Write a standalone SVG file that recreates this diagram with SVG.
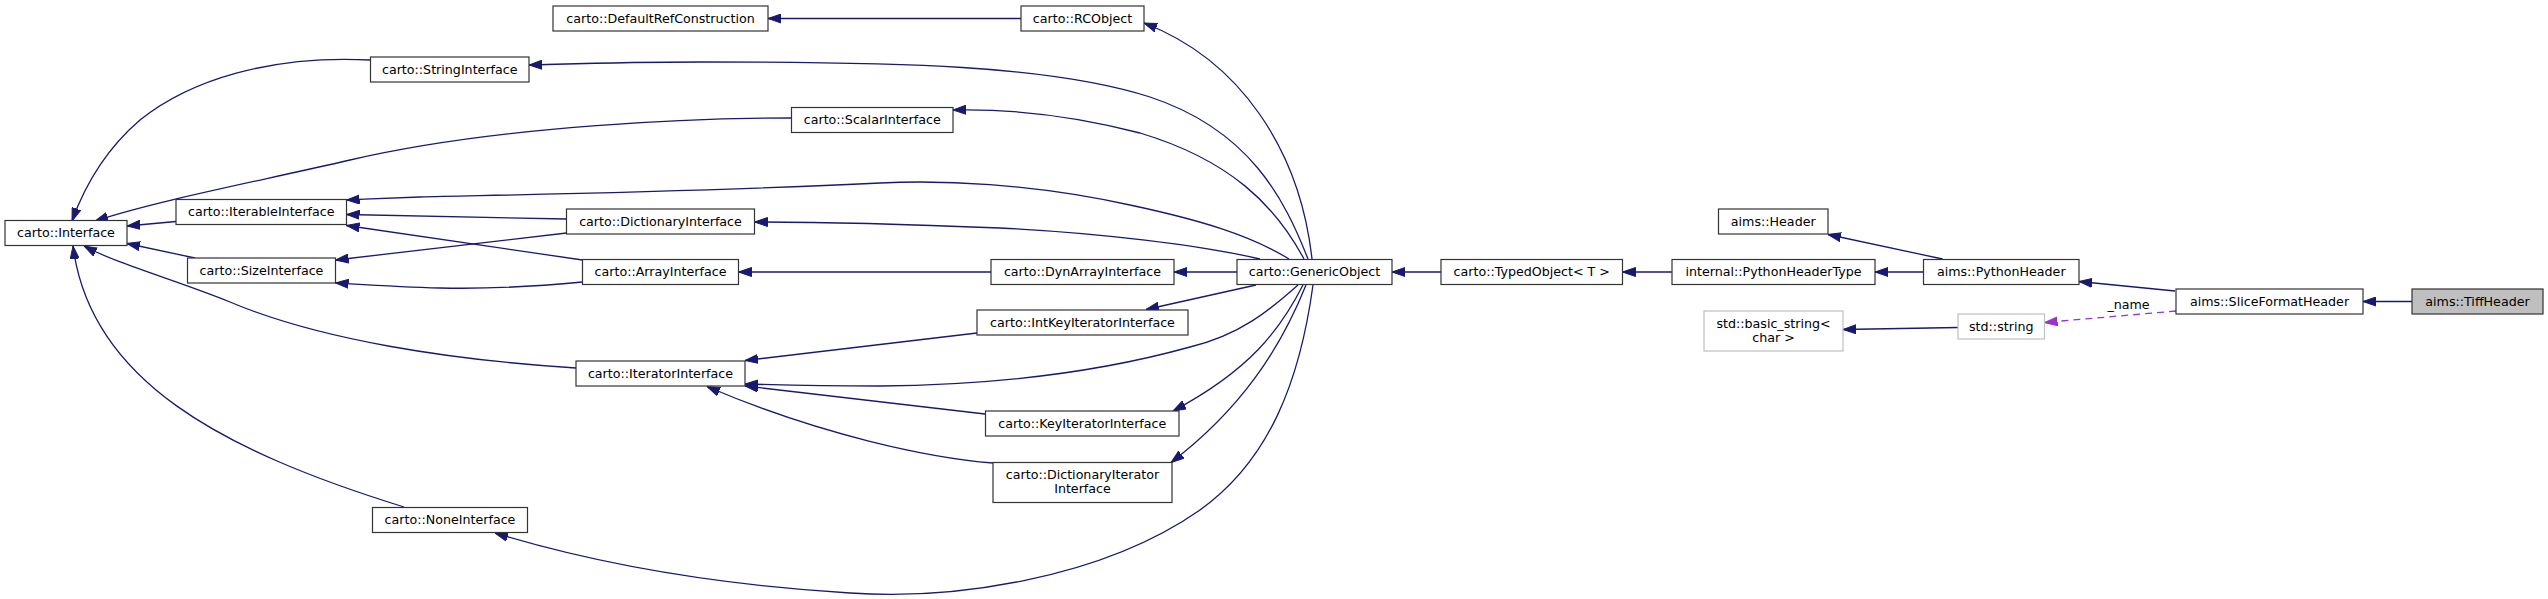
<svg xmlns="http://www.w3.org/2000/svg" width="2548" height="599" viewBox="0 0 2548 599">
<style>
.n rect{fill:#fff;stroke:#333;stroke-width:1.2}
.n.g rect{stroke:#bfbfbf}
.n.cur rect{fill:#bfbfbf}
.n text{font-family:"DejaVu Sans",sans-serif;font-size:12.67px;fill:#000;text-anchor:middle}
.e{fill:none;stroke:#191970;stroke-width:1.3;marker-end:url(#a)}
.u{fill:none;stroke:#9a32cd;stroke-width:1.3;stroke-dasharray:7,5;marker-end:url(#p)}
.lbl{font-family:"DejaVu Sans",sans-serif;font-size:12.67px;text-anchor:middle}
</style>
<defs>
<marker id="a" markerUnits="userSpaceOnUse" viewBox="0 0 13 10" refX="13" refY="5" markerWidth="13" markerHeight="10" orient="auto"><path d="M0,0.5 L13,5 L0,9.5 z" fill="#191970" stroke="#191970"/></marker>
<marker id="p" markerUnits="userSpaceOnUse" viewBox="0 0 13 10" refX="13" refY="5" markerWidth="13" markerHeight="10" orient="auto"><path d="M0,0.5 L13,5 L0,9.5 z" fill="#9a32cd" stroke="#9a32cd"/></marker>
</defs>
<rect width="2548" height="599" fill="#fff"/>
<g id="edges">
<path class="e" d="M1021,18.5 L768,18.5"/>
<path class="e" d="M1312,259 C1300,150 1240,60 1144,23"/>
<path class="e" d="M1308,259 C1285,200 1250,130 1150,97 C1050,65 900,62 700,62 C620,62 570,64 529,65"/>
<path class="e" d="M1304,259 C1275,205 1230,160 1140,133 C1060,112 1000,109 953,110"/>
<path class="e" d="M792,118 C700,118 500,125 350,160 C250,183 160,200 95,221"/>
<path class="e" d="M370,60 C270,55 190,80 140,120 C105,150 85,185 72,221"/>
<path class="e" d="M176,221.5 L127,226"/>
<path class="e" d="M195,258 L127,243.5"/>
<path class="e" d="M576,368 C450,360 320,340 230,302 C170,278 120,265 84,246"/>
<path class="e" d="M404,507 C220,450 90,380 73,246"/>
<path class="e" d="M566.5,219 L346.5,214.5"/>
<path class="e" d="M566.5,233 L335.5,260"/>
<path class="e" d="M582.5,260 L346.5,225.5"/>
<path class="e" d="M582.5,282 C530,287 480,289 440,288 C400,287 370,285 335.5,283"/>
<path class="e" d="M1289,259 C1250,235 1200,220 1130,205 C1030,183 940,180 880,183 C700,192 500,195 420,197 C390,198 370,199 346.5,200"/>
<path class="e" d="M1260,259 C1200,245 1100,233 1000,228 C900,224 820,222 754.5,222"/>
<path class="e" d="M991,272 L738.5,272"/>
<path class="e" d="M1237,272 L1174,272"/>
<path class="e" d="M1256,285 L1146,309.5"/>
<path class="e" d="M977,333 L745,360.5"/>
<path class="e" d="M1298,285 C1270,310 1240,335 1190,347 C1100,372 1000,385 880,386 C820,386 780,385 745,384"/>
<path class="e" d="M985,414 L745,386"/>
<path class="e" d="M993,463 C930,458 820,435 707,386.5"/>
<path class="e" d="M1303,285 C1280,330 1250,370 1173,411"/>
<path class="e" d="M1306,285 C1280,350 1240,410 1171,462.5"/>
<path class="e" d="M1313,285 C1300,380 1270,460 1200,510 C1100,580 950,600 850,593 C720,585 600,565 495,533"/>
<path class="e" d="M1441,272 L1392,272"/>
<path class="e" d="M1672,272 L1622.5,272"/>
<path class="e" d="M1923.5,272 L1875,272"/>
<path class="e" d="M1942.6,259 L1828,234.5"/>
<path class="e" d="M2175,291 L2079,281.5"/>
<path class="e" d="M2412,301.5 L2363,301.5"/>
<path class="u" d="M2176,311 L2044.5,322.5"/>
<path class="e" d="M1958,327.5 L1843,329.5"/>
<text class="lbl" x="2128.5" y="308.5">_name</text>
</g>
<g id="n_DefaultRefConstruction" class="n"><rect x="553" y="6" width="215" height="25"/><text x="660.5" y="22.5">carto::DefaultRefConstruction</text></g>
<g id="n_RCObject" class="n"><rect x="1021" y="6" width="123" height="25"/><text x="1082.5" y="22.5">carto::RCObject</text></g>
<g id="n_StringInterface" class="n"><rect x="370.5" y="57" width="158.5" height="25"/><text x="449.75" y="73.5">carto::StringInterface</text></g>
<g id="n_ScalarInterface" class="n"><rect x="791.5" y="107.5" width="161.5" height="25"/><text x="872.25" y="124">carto::ScalarInterface</text></g>
<g id="n_Interface" class="n"><rect x="5" y="220.5" width="122" height="25"/><text x="66" y="237">carto::Interface</text></g>
<g id="n_IterableInterface" class="n"><rect x="176" y="199.5" width="170.5" height="25"/><text x="261.25" y="216">carto::IterableInterface</text></g>
<g id="n_DictionaryInterface" class="n"><rect x="566.5" y="209" width="188" height="25"/><text x="660.5" y="225.5">carto::DictionaryInterface</text></g>
<g id="n_SizeInterface" class="n"><rect x="187.5" y="258" width="148" height="25"/><text x="261.5" y="274.5">carto::SizeInterface</text></g>
<g id="n_ArrayInterface" class="n"><rect x="582.5" y="259.5" width="156" height="25"/><text x="660.5" y="276">carto::ArrayInterface</text></g>
<g id="n_DynArrayInterface" class="n"><rect x="991" y="259.5" width="183" height="25"/><text x="1082.5" y="276">carto::DynArrayInterface</text></g>
<g id="n_GenericObject" class="n"><rect x="1237" y="259.5" width="155" height="25"/><text x="1314.5" y="276">carto::GenericObject</text></g>
<g id="n_IntKeyIteratorInterface" class="n"><rect x="977" y="310" width="211" height="25"/><text x="1082.5" y="326.5">carto::IntKeyIteratorInterface</text></g>
<g id="n_IteratorInterface" class="n"><rect x="576" y="361" width="169" height="25"/><text x="660.5" y="377.5">carto::IteratorInterface</text></g>
<g id="n_KeyIteratorInterface" class="n"><rect x="985.5" y="411" width="193.5" height="25"/><text x="1082.25" y="427.5">carto::KeyIteratorInterface</text></g>
<g id="n_DictionaryIteratorInterface" class="n"><rect x="993" y="462.5" width="179" height="40"/><text x="1082.5" y="479">carto::DictionaryIterator</text><text x="1082.5" y="493">Interface</text></g>
<g id="n_NoneInterface" class="n"><rect x="372.5" y="507.5" width="155" height="25"/><text x="450" y="524">carto::NoneInterface</text></g>
<g id="n_TypedObject" class="n"><rect x="1441" y="259.5" width="181.5" height="25"/><text x="1531.75" y="276">carto::TypedObject&lt; T &gt;</text></g>
<g id="n_PythonHeaderType" class="n"><rect x="1672" y="259.5" width="203" height="25"/><text x="1773.5" y="276">internal::PythonHeaderType</text></g>
<g id="n_Header" class="n"><rect x="1718.5" y="209" width="109.5" height="25"/><text x="1773.25" y="225.5">aims::Header</text></g>
<g id="n_PythonHeader" class="n"><rect x="1923.5" y="259.5" width="155.5" height="25"/><text x="2001.25" y="276">aims::PythonHeader</text></g>
<g id="n_basic_string" class="n g"><rect x="1704" y="311" width="139" height="40"/><text x="1773.5" y="327.5">std::basic_string&lt;</text><text x="1773.5" y="341.5">char &gt;</text></g>
<g id="n_string" class="n g"><rect x="1958" y="314" width="86.5" height="25"/><text x="2001.25" y="330.5">std::string</text></g>
<g id="n_SliceFormatHeader" class="n"><rect x="2176" y="289" width="187" height="25"/><text x="2269.5" y="305.5">aims::SliceFormatHeader</text></g>
<g id="n_TiffHeader" class="n cur"><rect x="2412" y="289" width="131" height="25"/><text x="2477.5" y="305.5">aims::TiffHeader</text></g>
</svg>
